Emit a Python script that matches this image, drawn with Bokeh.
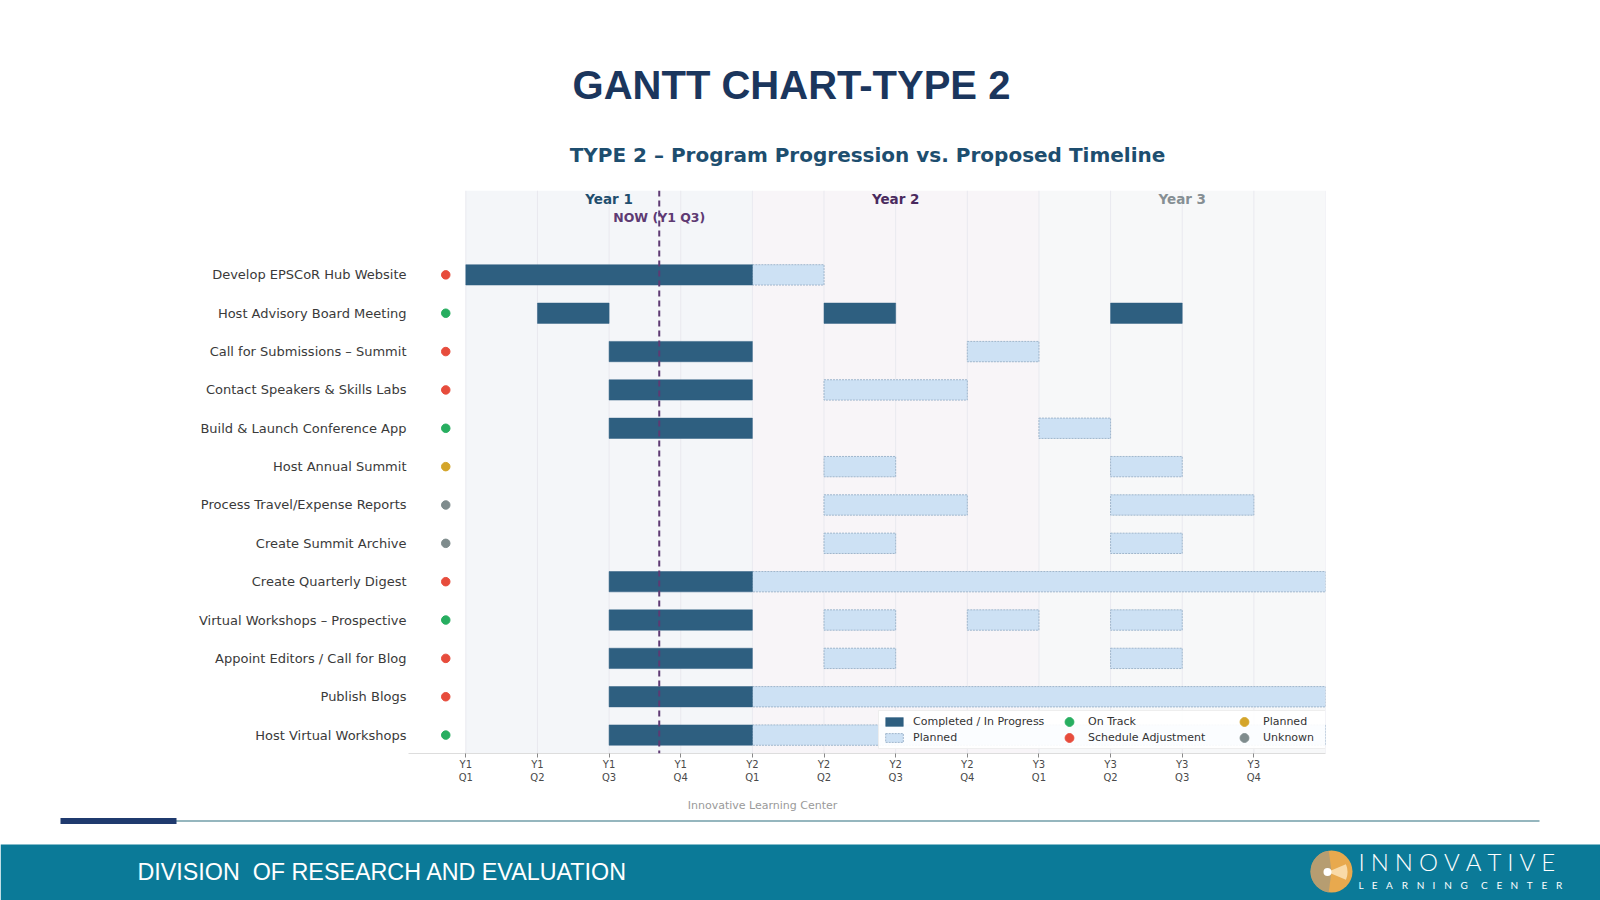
from bokeh.plotting import figure
from bokeh.models import Range1d, FixedTicker, Legend, LegendItem, Span, ColumnDataSource
from bokeh.layouts import column
from bokeh.embed import file_html
from bokeh.resources import INLINE
from bokeh.core.properties import value

# ---------------- data ----------------
tasks = [
    "Develop EPSCoR Hub Website",
    "Host Advisory Board Meeting",
    "Call for Submissions \u2013 Summit",
    "Contact Speakers & Skills Labs",
    "Build & Launch Conference App",
    "Host Annual Summit",
    "Process Travel/Expense Reports",
    "Create Summit Archive",
    "Create Quarterly Digest",
    "Virtual Workshops \u2013 Prospective",
    "Appoint Editors / Call for Blog",
    "Publish Blogs",
    "Host Virtual Workshops",
]
status = ["adjust", "on_track", "adjust", "adjust", "on_track", "planned", "unknown",
          "unknown", "adjust", "on_track", "adjust", "adjust", "on_track"]

# completed / in-progress segments (quarter index, 0 = Y1 Q1)
actual_task = [0, 1, 1, 1, 2, 3, 4, 8, 9, 10, 11, 12]
actual_start = [0, 1, 5, 9, 2, 2, 2, 2, 2, 2, 2, 2]
actual_end = [4, 2, 6, 10, 4, 4, 4, 4, 4, 4, 4, 4]

# planned segments
planned_task = [0, 2, 3, 4, 5, 5, 6, 6, 7, 7, 8, 9, 9, 9, 10, 10, 11, 12]
planned_start = [4, 7, 5, 8, 5, 9, 5, 9, 5, 9, 4, 5, 7, 9, 5, 9, 4, 4]
planned_end = [5, 8, 7, 9, 6, 10, 7, 11, 6, 10, 12, 6, 8, 10, 6, 10, 12, 12]

quarter_labels = ["Y1\nQ1", "Y1\nQ2", "Y1\nQ3", "Y1\nQ4",
                  "Y2\nQ1", "Y2\nQ2", "Y2\nQ3", "Y2\nQ4",
                  "Y3\nQ1", "Y3\nQ2", "Y3\nQ3", "Y3\nQ4"]
years = ["Year 1", "Year 2", "Year 3"]
year_start = [0, 4, 8]
year_end = [4, 8, 12]
now_q = 2.7
now_label = "NOW (Y1 Q3)"

status_keys = ["on_track", "adjust", "planned", "unknown"]
status_names = ["On Track", "Schedule Adjustment", "Planned", "Unknown"]

# ---------------- styles ----------------
STATUS_COL = {"on_track": "#27ae60", "adjust": "#e74c3c", "planned": "#d4a52a", "unknown": "#7f8c8d"}
YEAR_BAND = ["#f4f6f9", "#f8f5f8", "#f7f8f9"]
YEAR_TXT = ["#1f4e6e", "#4a2a5e", "#868f94"]
ACTUAL_COL = "#2e5f80"
PLAN_FILL = "#cde1f4"
PLAN_LINE = "#9fb6cc"
NOW_COL = "#5e3a73"
FN = "DejaVu Sans"
F = value(FN)
BAR_H = 0.53

# ---------------- header ----------------
hdr = figure(width=1600, height=180, x_range=Range1d(0, 1600), y_range=Range1d(180, 0),
             x_axis_location=None, y_axis_location=None, toolbar_location=None,
             min_border=0, outline_line_color=None, output_backend="svg", title=None,
             frame_align=False)
hdr.grid.visible = False
hdr.text(x=[791], y=[84], text=["GANTT CHART-TYPE 2"], text_font=value("Liberation Sans"),
         text_font_style="bold", text_font_size="40px", text_color="#1b365d",
         text_align="center", text_baseline="middle")
hdr.text(x=[867], y=[154], text=["TYPE 2 \u2013 Program Progression vs. Proposed Timeline"],
         text_font=F, text_font_style="bold", text_font_size="20px", text_color="#1d4e6f",
         text_align="center", text_baseline="middle")

# ---------------- gantt ----------------
p = figure(width=1600, height=615, x_range=Range1d(-0.8, 12), y_range=Range1d(12.48, -2.2),
           toolbar_location=None, output_backend="svg", title=None,
           min_border_left=408, min_border_right=275, min_border_top=10, min_border_bottom=42,
           outline_line_color=None, frame_align=False)
p.grid.visible = False

# year bands
band_src = ColumnDataSource(dict(left=year_start, right=year_end, color=YEAR_BAND,
                                 label=years, tcolor=YEAR_TXT,
                                 mid=[(a + b) / 2 for a, b in zip(year_start, year_end)]))
p.quad(left="left", right="right", bottom=12.48, top=-2.2, source=band_src,
       fill_color="color", line_color=None)

# quarter grid lines
qb = list(range(0, 13))
p.segment(x0=qb, x1=qb, y0=[12.48] * len(qb), y1=[-2.2] * len(qb),
          line_color="#e9e9ef", line_width=1)

# year labels
p.text(x="mid", y=-1.99, text="label", source=band_src, text_color="tcolor",
       text_font=F, text_font_style="bold", text_font_size="13.5px",
       text_align="center", text_baseline="middle")

# bars
r_plan = p.quad(left=planned_start, right=planned_end,
                bottom=[t + BAR_H / 2 for t in planned_task],
                top=[t - BAR_H / 2 for t in planned_task],
                fill_color=PLAN_FILL, line_color=PLAN_LINE, line_dash="2 1", line_width=1)
r_act = p.quad(left=actual_start, right=actual_end,
               bottom=[t + BAR_H / 2 for t in actual_task],
               top=[t - BAR_H / 2 for t in actual_task],
               fill_color=ACTUAL_COL, line_color=ACTUAL_COL, line_width=0.5)

# status dots
st_src = ColumnDataSource(dict(x=[-0.28] * len(tasks), y=list(range(len(tasks))),
                               c=[STATUS_COL[s] for s in status]))
r_st = p.scatter(x="x", y="y", source=st_src, size=8.5, fill_color="c", line_color="c")

# legend-only round swatches, placed outside the visible range
leg_dots = []
for k in status_keys:
    leg_dots.append(p.ellipse(x=[-50], y=[-50], width=9, height=9,
                              width_units="screen", height_units="screen",
                              fill_color=STATUS_COL[k], line_color=STATUS_COL[k]))

# now line
p.add_layout(Span(location=now_q, dimension="height", line_color=NOW_COL,
                  line_width=2, line_dash="6 4"))
p.text(x=[now_q], y=[-1.50], text=[now_label], text_color=NOW_COL, text_font=F,
       text_font_style="bold", text_font_size="12.5px", text_align="center",
       text_baseline="middle")

# axes
xa = p.xaxis[0]
xa.ticker = FixedTicker(ticks=list(range(len(quarter_labels))))
xa.major_label_overrides = {i: l for i, l in enumerate(quarter_labels)}
xa.axis_line_color = "#dddddd"
xa.major_tick_line_color = "#888888"
xa.major_tick_out = 4
xa.major_tick_in = 0
xa.minor_tick_line_color = None
xa.major_label_text_font = FN
xa.major_label_text_font_size = "10px"
xa.major_label_text_color = "#4a4a4a"
xa.major_label_standoff = 1

ya = p.yaxis[0]
ya.ticker = FixedTicker(ticks=list(range(len(tasks))))
ya.major_label_overrides = {i: t for i, t in enumerate(tasks)}
ya.axis_line_color = None
ya.major_tick_line_color = None
ya.minor_tick_line_color = None
ya.major_tick_out = 0
ya.major_tick_in = 0
ya.major_label_standoff = 2
ya.major_label_text_font = FN
ya.major_label_text_font_size = "13px"
ya.major_label_text_color = "#3a3a3a"

# legend
items = [
    LegendItem(label="Completed / In Progress", renderers=[r_act]),
    LegendItem(label="Planned", renderers=[r_plan]),
]
for name, r in zip(status_names, leg_dots):
    items.append(LegendItem(label=name, renderers=[r]))
legend = Legend(items=items, location=(470, 4), ncols=3, orientation="vertical")
legend.label_text_font = FN
legend.label_text_font_size = "11px"
legend.label_text_color = "#333333"
legend.label_height = 13
legend.label_width = 142
legend.glyph_height = 11
legend.glyph_width = 22
legend.label_standoff = 8
legend.spacing = 3
legend.padding = 4
legend.margin = 0
legend.border_line_color = "#dddddd"
legend.background_fill_alpha = 0.92
p.add_layout(legend)

# ---------------- footer ----------------
ftr = figure(width=1600, height=105, x_range=Range1d(0, 1600), y_range=Range1d(900, 795),
             x_axis_location=None, y_axis_location=None, toolbar_location=None,
             min_border=0, outline_line_color=None, output_backend="svg", title=None,
             frame_align=False)
ftr.grid.visible = False
ftr.text(x=[762], y=[805], text=["Innovative Learning Center"], text_font=F,
         text_font_size="11px", text_color="#9a9a9a", text_align="center",
         text_baseline="middle")
ftr.quad(left=[175], right=[1539], bottom=[821.5], top=[819.5], fill_color="#95b6be", line_color=None)
ftr.quad(left=[60], right=[176], bottom=[823.5], top=[817.5], fill_color="#1f3a6e", line_color=None)
ftr.quad(left=[0], right=[1600], bottom=[900], top=[844], fill_color="#0b7a98", line_color=None)
ftr.text(x=[137], y=[871], text=["DIVISION\u00a0 OF RESEARCH AND EVALUATION"],
         text_font=value("Liberation Sans"), text_font_size="23.3px",
         text_color="white", text_align="left", text_baseline="middle")
# logo
ftr.circle(x=[1331], y=[871], radius=21, fill_color="#e8a94e", line_color=None)
ftr.wedge(x=[1331], y=[871], radius=21, start_angle=1.7, end_angle=4.58,
          fill_color="#a69a7d", fill_alpha=0.75, line_color=None)
ftr.wedge(x=[1327], y=[871.5], radius=20, start_angle=-0.4, end_angle=0.4,
          fill_color="#fbe3b8", fill_alpha=0.85, line_color=None)
ftr.circle(x=[1327], y=[871.5], radius=4, fill_color="white", line_color=None)
gap = "\u2009\u200a\u200a"
ftr.text(x=[1358], y=[861], text=[gap.join("INNOVATIVE")],
         text_font=value("Lato Light, Lato"), text_font_size="24px", text_color="white",
         text_align="left", text_baseline="middle")
ftr.text(x=[1358], y=[884],
         text=["L\u2002\u200a E\u2002\u200a\u200a A\u2002\u200a\u200a R\u2002\u200a\u200a N\u2002\u200a I\u2002\u200a\u200a N\u2002\u200a\u200a G\u2002\u2002\u200a C\u2002\u200a\u200a E\u2002\u200a N\u2002\u200a\u200a T\u2002\u200a\u200a E\u2002\u200a\u200a R"],
         text_font=value("Lato"), text_font_size="10px", text_color="white",
         text_align="left", text_baseline="middle")

layout = column(hdr, p, ftr, spacing=0)
open("out.html", "w").write(file_html(layout, INLINE))
